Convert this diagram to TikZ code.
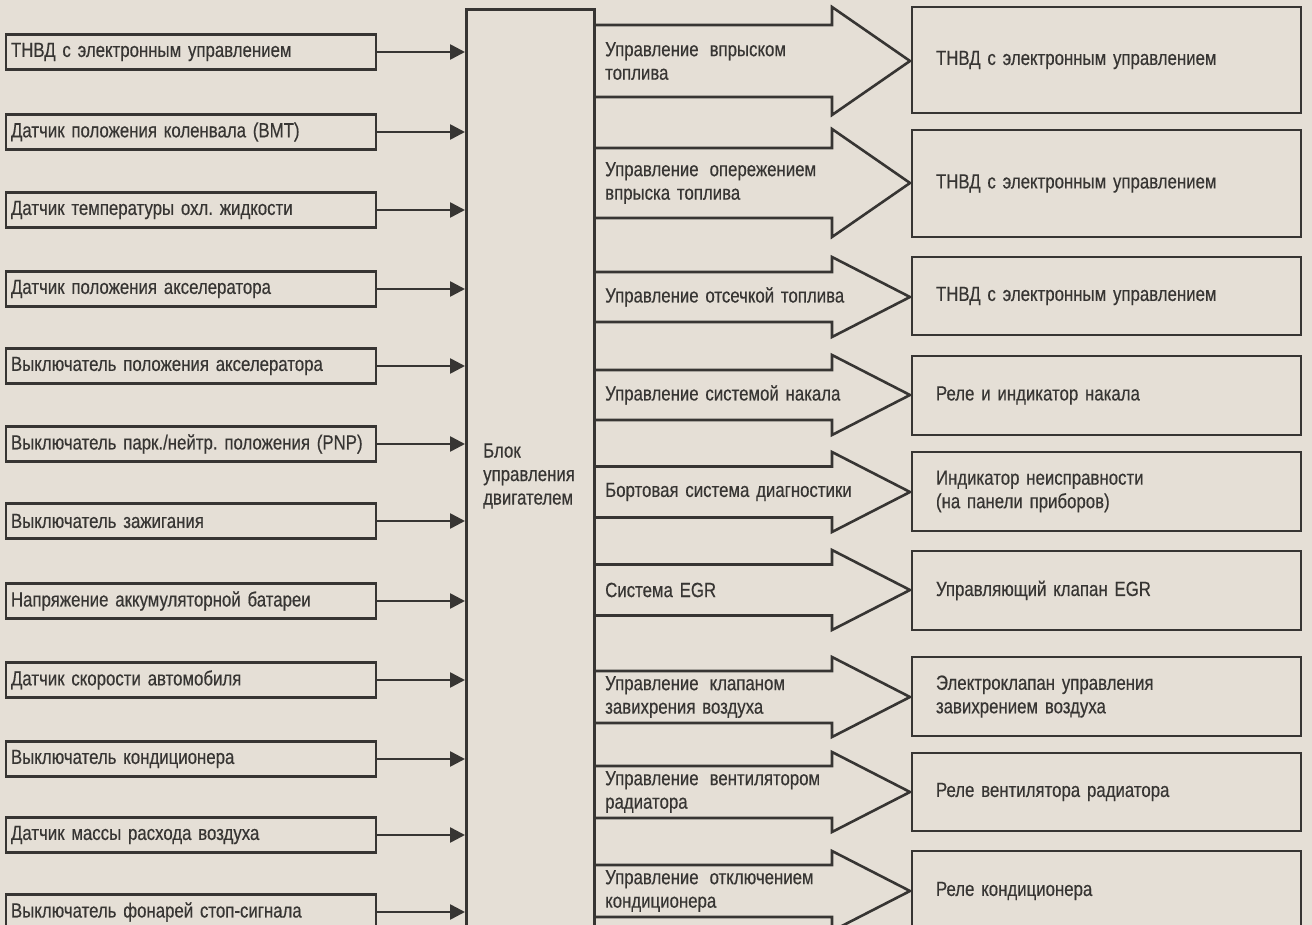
\documentclass[tikz,border=0pt]{standalone}
\usepackage{fontspec}
\setmainfont{Liberation Sans}[FakeStretch=0.82,FakeBold=0.4]
\usetikzlibrary{arrows.meta}
\definecolor{paper}{RGB}{229,223,214}
\definecolor{ink}{RGB}{55,53,51}
\newcommand{\mynormsp}{\spaceskip=6.8pt plus 1pt minus 1pt\relax}
\newcommand{\mywidesp}{\spaceskip=11pt plus 1pt minus 1pt\relax}
\begin{document}
\frenchspacing
\begin{tikzpicture}[x=1pt,y=-1pt,
  every node/.style={text=ink, font=\fontsize{20.5}{23.5}\selectfont\mynormsp},
  inbox/.style={draw=ink, line width=2.6pt, minimum height=35pt, text width=360pt, inner xsep=5pt, inner ysep=0pt, align=left},
  outbox/.style={draw=ink, line width=2.6pt, text width=341pt, inner xsep=24pt, inner ysep=0pt, align=left},
  lbl/.style={anchor=west, align=left, inner sep=5pt},
  sig/.style={draw=ink, line width=2.6pt, -{Triangle[length=15pt,width=15pt]}},
  bigarrow/.style={draw=ink, line width=2.6pt, line join=miter}
]
\fill[paper] (0,0) rectangle (1312,925);
\useasboundingbox (0,0) rectangle (1312,925);
\clip (0,0) rectangle (1312,925);

% engine control unit
\node[draw=ink, line width=2.6pt, minimum width=128pt, minimum height=940pt, anchor=north west, inner sep=0pt] (ecu) at (465,8) {};
\node[lbl] (eculbl) at (478,476) {Блок\\управления\\двигателем};

% inputs
\foreach \i/\c/\t in {
  1/52/{ТНВД с электронным управлением},
  2/132/{Датчик положения коленвала (ВМТ)},
  3/210/{Датчик температуры охл. жидкости},
  4/289/{Датчик положения акселератора},
  5/366/{Выключатель положения акселератора},
  6/444/{Выключатель парк./нейтр. положения (PNP)},
  7/521/{Выключатель зажигания},
  8/601/{Напряжение аккумуляторной батареи},
  9/680/{Датчик скорости автомобиля},
  10/759/{Выключатель кондиционера},
  11/835/{Датчик массы расхода воздуха},
  12/912/{Выключатель фонарей стоп-сигнала}}{
  \node[inbox] (in\i) at (191,\c) {\t};
  \draw[sig] (in\i.east) -- (in\i.east -| ecu.west);
}

% outputs: wide arrows
\foreach \i/\c/\s/\h/\t in {
  1/61/36/54/{{\mywidesp Управление впрыском}\\топлива},
  2/183/35/54/{{\mywidesp Управление опережением}\\впрыска топлива},
  3/297/25/40/{Управление отсечкой топлива},
  4/395/25/40/{Управление системой накала},
  5/492/25.5/40/{Бортовая система диагностики},
  6/590/25.5/40/{Система EGR},
  7/697/26/40/{{\mywidesp Управление клапаном}\\завихрения воздуха},
  8/792/26/40/{{\mywidesp Управление вентилятором}\\радиатора},
  9/891/26/40/{{\mywidesp Управление отключением}\\кондиционера}}{
  \draw[bigarrow] (593,\c-\s) -- (832,\c-\s) -- (832,\c-\h) -- (910,\c) -- (832,\c+\h) -- (832,\c+\s) -- (593,\c+\s);
  \node[lbl] (a\i) at (600,\c) {\t};
}

% actuators
\foreach \i/\c/\hh/\t in {
  1/60/106/{ТНВД с электронным управлением},
  2/183.5/107/{ТНВД с электронным управлением},
  3/296/78/{ТНВД с электронным управлением},
  4/395.5/79/{Реле и индикатор накала},
  5/491.5/79/{Индикатор неисправности\\(на панели приборов)},
  6/590.5/79/{Управляющий клапан EGR},
  7/696.5/79/{Электроклапан управления\\завихрением воздуха},
  8/792/78/{Реле вентилятора радиатора},
  9/891/80/{Реле кондиционера}}{
  \node[outbox, minimum height=\hh pt] (out\i) at (1106.5,\c) {\t};
}
\end{tikzpicture}
\end{document}
